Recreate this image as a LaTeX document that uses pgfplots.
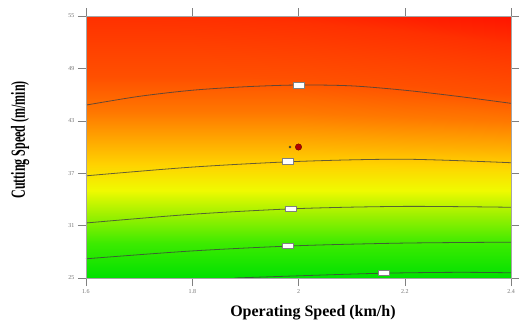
\documentclass[border=0pt]{standalone}
\usepackage{fontspec}
\setmainfont{Liberation Serif}
\usepackage{graphicx}
\usepackage{pgfplots}
\pgfplotsset{compat=1.18}
\begin{document}
\begin{tikzpicture}
\begin{axis}[
  at={(86pt,47pt)}, anchor=south west,
  scale only axis, width=425pt, height=262pt,
  xmin=1.6, xmax=2.4, ymin=25, ymax=55,
  xtick={1.6,1.8,2,2.2,2.4}, ytick={25,31,37,43,49,55},
  tick align=outside, major tick length=8pt,
  tick style={gray, line width=0.5pt},
  ticklabel style={font=\fontsize{6}{6}\selectfont, text=black!55},
  /pgf/number format/assume math mode=true,
  axis line style={gray!70, line width=0.6pt},
  xlabel={\fontsize{16}{16}\selectfont\bfseries Operating Speed (km/h)},
  xlabel style={at={(axis description cs:0.534,0)}, anchor=center, yshift=-35pt},
  ylabel={\scalebox{0.6}[1]{\fontsize{20}{20}\selectfont\bfseries Cutting Speed (m/min)}},
  ylabel style={at={(axis description cs:-0.155,0.527)}, anchor=center},
  colormap={rsm}{rgb255(25cm)=(0,225,0); rgb255(29cm)=(60,235,0); rgb255(32cm)=(150,240,0);
    rgb255(35cm)=(240,250,0); rgb255(38cm)=(255,210,0); rgb255(41cm)=(255,165,0);
    rgb255(44cm)=(255,120,0); rgb255(48cm)=(255,80,0); rgb255(52cm)=(255,62,0);
    rgb255(55cm)=(255,48,0); rgb255(58cm)=(255,20,0)},
  point meta min=25, point meta max=58,
  axis on top,
]
\addplot[surf, shader=interp, mesh/cols=5, mesh/rows=11, point meta=explicit]
  table[x=x, y=y, meta=m] {
x y m
1.6 25 25
1.8 25 25
2.0 25 25
2.2 25 25
2.4 25 25
1.6 28 28
1.8 28 28
2.0 28 28
2.2 28 28
2.4 28 28
1.6 31 31
1.8 31 31
2.0 31 31
2.2 31 31
2.4 31 31
1.6 34 34
1.8 34 34
2.0 34 34
2.2 34 34
2.4 34 34
1.6 37 37
1.8 37 37
2.0 37 37
2.2 37 37
2.4 37 37
1.6 40 40
1.8 40 40
2.0 40 40
2.2 40 40.3
2.4 40 40.6
1.6 43 43
1.8 43 43
2.0 43 43
2.2 43 43.5
2.4 43 44
1.6 46 46
1.8 46 46
2.0 46 46
2.2 46 46.8
2.4 46 47.8
1.6 49 49
1.8 49 49
2.0 49 49.3
2.2 49 50.2
2.4 49 51.5
1.6 52 52
1.8 52 52
2.0 52 52.5
2.2 52 53.6
2.4 52 55.2
1.6 55 55
1.8 55 55.2
2.0 55 55.8
2.2 55 57
2.4 55 58
};
\tikzset{clab/.style={fill=white, draw=gray, inner sep=0pt, minimum width=11pt, minimum height=5.5pt}}
\addplot[smooth, black!75, line width=0.8pt, opacity=0.8] coordinates {
(1.6,44.8) (1.7,45.8) (1.8,46.5) (1.9,46.9) (2.0,47.1) (2.1,47.0) (2.2,46.5) (2.3,45.8) (2.4,45.0)
};
\addplot[smooth, black!75, line width=0.8pt, opacity=0.8] coordinates {
(1.6,36.7) (1.8,37.7) (2.0,38.35) (2.2,38.6) (2.4,38.2)
};
\addplot[smooth, black!75, line width=0.8pt, opacity=0.8] coordinates {
(1.6,31.3) (1.8,32.3) (2.0,32.95) (2.2,33.2) (2.4,33.1)
};
\addplot[smooth, black!75, line width=0.8pt, opacity=0.8] coordinates {
(1.6,27.2) (1.8,28.1) (2.0,28.7) (2.2,29.0) (2.4,29.1)
};
\addplot[smooth, black!75, line width=0.8pt, opacity=0.8] coordinates {
(1.88,25.0) (2.0,25.25) (2.16,25.55) (2.3,25.65) (2.4,25.6)
};
\node[clab] at (axis cs:2.0,47.1) {};
\node[clab] at (axis cs:1.98,38.4) {};
\node[clab] at (axis cs:1.985,32.95) {};
\node[clab] at (axis cs:1.98,28.7) {};
\node[clab] at (axis cs:2.16,25.6) {};
\addplot[only marks, mark=*, mark size=1pt, color=black!60!olive] coordinates {(1.984,40.0)};
\addplot[only marks, mark=*, mark size=3.2pt, fill=red!70!black, draw=red!40!black] coordinates {(2.0,40.0)};
\end{axis}
\pgfresetboundingbox
\path[use as bounding box] (0,0) rectangle (520pt,325pt);
\end{tikzpicture}
\end{document}
